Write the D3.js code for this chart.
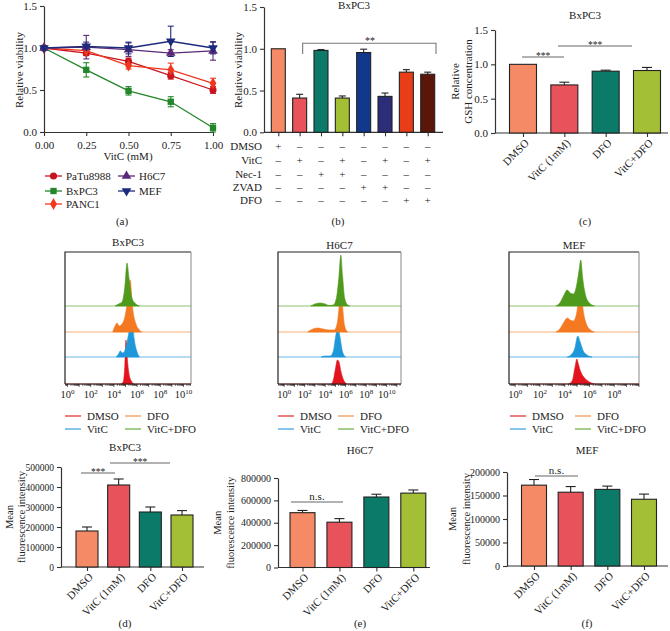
<!DOCTYPE html>
<html><head><meta charset="utf-8">
<script src="https://cdn.jsdelivr.net/npm/d3@7"></script>
<style>
body{margin:0;background:#fff}
svg{display:block}
text{font-family:"Liberation Serif","Times New Roman",serif;fill:#222}
</style>
</head><body>
<svg id="c" width="670" height="631"></svg>
<script>
// ---------------- DATA ----------------
// (a) viability vs VitC dose
const doses = [0, 0.25, 0.5, 0.75, 1.0];
const paTuMean  = [1.0, 0.94, 0.84, 0.67, 0.50];
const paTuErr   = [0, 0.03, 0.04, 0.04, 0.04];
const bxpcMean  = [1.0, 0.74, 0.49, 0.36, 0.05];
const bxpcErr   = [0, 0.085, 0.05, 0.06, 0.05];
const panc1Mean = [1.0, 0.97, 0.79, 0.74, 0.58];
const panc1Err  = [0, 0.03, 0.04, 0.08, 0.06];
const h6c7Mean  = [1.0, 1.01, 0.98, 0.94, 0.965];
const h6c7Err   = [0, 0.14, 0.08, 0.04, 0.11];
const mefMean   = [1.0, 1.02, 1.0, 1.08, 1.0];
const mefErr    = [0, 0.05, 0.07, 0.18, 0.07];
const lineNames = ["PaTu8988", "BxPC3", "PANC1", "H6C7", "MEF"];

// (b) BxPC3 inhibitor combos
const comboRows = ["DMSO", "VitC", "Nec-1", "ZVAD", "DFO"];
const comboSigns = [
  [1,0,0,0,0,0,0,0],
  [0,1,0,1,0,1,0,1],
  [0,0,1,1,0,0,0,0],
  [0,0,0,0,1,1,0,0],
  [0,0,0,0,0,0,1,1]
];
const comboMean = [1.0, 0.41, 0.98, 0.41, 0.955, 0.43, 0.72, 0.695];
const comboErr  = [0, 0.045, 0.01, 0.025, 0.04, 0.04, 0.03, 0.025];

// treatment groups for (c)-(f)
const groups = ["DMSO", "VitC (1mM)", "DFO", "VitC+DFO"];
// (c) GSH
const gshMean = [1.0, 0.70, 0.90, 0.91];
const gshErr  = [0, 0.04, 0.015, 0.045];
// (d)-(f) mean fluorescence intensity
const mfiBxpc3 = [180000, 410000, 275000, 260000];
const mfiBxpc3Err = [20000, 30000, 25000, 22000];
const mfiH6c7 = [490000, 405000, 630000, 665000];
const mfiH6c7Err = [20000, 32000, 25000, 28000];
const mfiMef = [172000, 157000, 163000, 142000];
const mfiMefErr = [12000, 12000, 7000, 11000];

// flow histograms: [log10 fluorescence, count]
const flowLegend = ["DMSO", "DFO", "VitC", "VitC+DFO"];
const histBxpc3 = {
  DMSO: [[4.6,0],[4.8,2],[4.95,20],[5.04,44],[5.15,26],[5.3,10],[5.5,3],[5.7,0]],
  VitC: [[4.2,0],[4.4,3],[4.55,6],[4.75,4],[5.0,8],[5.3,25],[5.56,39],[5.75,18],[6.0,5],[6.2,0]],
  DFO: [[3.9,0],[4.1,6],[4.27,9],[4.45,6],[4.7,8],[5.0,18],[5.25,38],[5.4,52],[5.6,25],[5.9,8],[6.2,2],[6.4,0]],
  "VitC+DFO": [[4.1,0],[4.4,2],[4.7,4],[4.95,20],[5.13,43],[5.3,28],[5.55,8],[5.9,2],[6.2,0]]
};
const histH6c7 = {
  DMSO: [[4.6,0],[4.8,4],[5.0,15],[5.2,24],[5.35,22],[5.55,12],[5.8,4],[6.1,0]],
  VitC: [[3.6,0],[4.0,1],[4.5,1],[4.8,6],[5.05,22],[5.24,29],[5.45,20],[5.7,5],[6.0,0]],
  DFO: [[2.3,0],[2.8,3],[3.3,4],[3.8,3],[4.4,2],[4.9,2],[5.2,10],[5.4,30],[5.53,45],[5.7,25],[5.9,6],[6.2,0]],
  "VitC+DFO": [[2.6,0],[3.0,2],[3.5,3],[4.0,2],[4.4,0.5],[4.8,1],[5.1,8],[5.35,30],[5.53,51],[5.7,30],[5.9,8],[6.2,1],[6.4,0]]
};
const histMef = {
  DMSO: [[4.3,0],[4.6,3],[4.85,18],[4.98,25],[5.1,20],[5.3,12],[5.6,6],[6.0,2],[6.4,0]],
  VitC: [[4.2,0],[4.5,2],[4.8,8],[5.06,21],[5.25,15],[5.5,6],[5.8,2],[6.2,0]],
  DFO: [[3.3,0],[3.6,3],[3.9,9],[4.2,14],[4.45,12],[4.7,11],[4.95,18],[5.15,35],[5.3,49],[5.45,26],[5.7,10],[6.0,3],[6.4,0]],
  "VitC+DFO": [[3.3,0],[3.6,3],[3.9,10],[4.2,16],[4.45,13],[4.7,12],[4.95,20],[5.15,35],[5.3,46],[5.45,28],[5.7,10],[6.0,3],[6.4,0]]
};

// ---------------- STYLE ----------------
const lineColors = ["#c8141e", "#23862a", "#f2371f", "#5a2a78", "#1c2a7c"];
const lineSymbols = [d3.symbolCircle, d3.symbolSquare, d3.symbolDiamond, d3.symbolTriangle, "down"];
const comboColors = ["#f58b66", "#e8525a", "#0b7a68", "#a3bf36", "#10398c", "#2c2d78", "#e83d16", "#5a1608"];
const groupColors = ["#f58b66", "#e8525a", "#0b7a68", "#a3bf36"];
const flowColors = {DMSO: "#e3141d", VitC: "#1e98d8", DFO: "#f47920", "VitC+DFO": "#4f9a1c"};
const flowLegendColors = {DMSO: "#e03a3a", VitC: "#45a8e0", DFO: "#f39a55", "VitC+DFO": "#72b44a"};
const AX = "#333";

const svg = d3.select("#c");

function styleAxis(g, fs) {
  g.selectAll(".domain").attr("stroke", AX).attr("stroke-width", 1.2);
  g.selectAll(".tick line").attr("stroke", AX).attr("stroke-width", 1.1);
  g.selectAll(".tick text").attr("font-family", '"Liberation Serif","Times New Roman",serif')
    .attr("font-size", fs).attr("fill", "#222");
}
function txt(x, y, s, opts = {}) {
  const t = svg.append("text").attr("x", x).attr("y", y).text(s)
    .attr("font-size", opts.fs || 11).attr("text-anchor", opts.anchor || "middle");
  if (opts.rot) t.attr("transform", `rotate(${opts.rot},${x},${y})`);
  return t;
}
function symPath(s, size) {
  if (s === "down") return d3.symbol(d3.symbolTriangle, size)();
  return d3.symbol(s, size)();
}

// ---------------- (a) ----------------
(function () {
  const x = d3.scaleLinear().domain([0, 1]).range([44, 213]);
  const y = d3.scaleLinear().domain([0, 1.5]).range([132, 6]);
  const gy = svg.append("g").attr("transform", "translate(44,0)")
    .call(d3.axisLeft(y).tickValues([0, 0.5, 1.0, 1.5]).tickFormat(d3.format(".1f")).tickSize(4).tickSizeOuter(0));
  styleAxis(gy, 11);
  const gx = svg.append("g").attr("transform", "translate(0,132)")
    .call(d3.axisBottom(x).tickValues(doses).tickFormat(d3.format(".2f")).tickSize(4).tickSizeOuter(0));
  styleAxis(gx, 11);
  gx.selectAll(".tick text").attr("dy", "0.9em");
  txt(23, 70, "Relative viability", {rot: -90});
  txt(128, 160, "VitC (mM)");

  const means = [paTuMean, bxpcMean, panc1Mean, h6c7Mean, mefMean];
  const errs = [paTuErr, bxpcErr, panc1Err, h6c7Err, mefErr];
  const line = d3.line().x((d, i) => x(doses[i])).y(d => y(d));
  means.forEach((m, k) => {
    const c = lineColors[k];
    svg.append("path").attr("d", line(m)).attr("fill", "none").attr("stroke", c).attr("stroke-width", 1.3);
    m.forEach((v, i) => {
      const e = errs[k][i];
      if (e > 0) {
        const cx = x(doses[i]);
        svg.append("line").attr("x1", cx).attr("x2", cx).attr("y1", y(v - e)).attr("y2", y(v + e)).attr("stroke", c).attr("stroke-width", 1.1);
        [v - e, v + e].forEach(w => svg.append("line").attr("x1", cx - 3).attr("x2", cx + 3).attr("y1", y(w)).attr("y2", y(w)).attr("stroke", c).attr("stroke-width", 1.1));
      }
    });
  });
  means.forEach((m, k) => {
    m.forEach((v, i) => {
      svg.append("path").attr("d", symPath(lineSymbols[k], 40))
        .attr("transform", `translate(${x(doses[i])},${y(v)})` + (lineSymbols[k] === "down" ? " rotate(180)" : ""))
        .attr("fill", lineColors[k]);
    });
  });
  // legend
  const pos = [[45, 176], [45, 191], [45, 204], [118, 176], [118, 191]];
  lineNames.forEach((n, k) => {
    const [lx, ly] = pos[k];
    svg.append("line").attr("x1", lx).attr("x2", lx + 17).attr("y1", ly).attr("y2", ly).attr("stroke", lineColors[k]).attr("stroke-width", 1.3);
    svg.append("path").attr("d", symPath(lineSymbols[k], 40))
      .attr("transform", `translate(${lx + 8.5},${ly})` + (lineSymbols[k] === "down" ? " rotate(180)" : ""))
      .attr("fill", lineColors[k]);
    txt(lx + 21, ly + 4, n, {anchor: "start"});
  });
  txt(122, 225, "(a)");
})();

// ---------------- (b) ----------------
(function () {
  const x = d3.scalePoint().domain(d3.range(comboMean.length)).range([278.3, 427.7]);
  const y = d3.scaleLinear().domain([0, 1.5]).range([132.3, 7]);
  const gy = svg.append("g").attr("transform", "translate(264,0)")
    .call(d3.axisLeft(y).tickValues([0, 0.5, 1.0, 1.5]).tickFormat(d3.format(".1f")).tickSize(4).tickSizeOuter(0));
  styleAxis(gy, 11);
  const gx = svg.append("g").attr("transform", "translate(0,132.3)")
    .call(d3.axisBottom(x).tickFormat("").tickSize(4).tickSizeOuter(0));
  gx.select(".domain").attr("d", "M264,0H443");
  styleAxis(gx, 11);
  txt(242, 70, "Relative viability", {rot: -90});
  txt(354, 9, "BxPC3");
  const bw = 14;
  comboMean.forEach((v, i) => {
    const cx = x(i), e = comboErr[i];
    if (e > 0) {
      svg.append("line").attr("x1", cx).attr("x2", cx).attr("y1", y(v)).attr("y2", y(v + e)).attr("stroke", "#222").attr("stroke-width", 1.1);
      svg.append("line").attr("x1", cx - 3.5).attr("x2", cx + 3.5).attr("y1", y(v + e)).attr("y2", y(v + e)).attr("stroke", "#222").attr("stroke-width", 1.1);
    }
    svg.append("rect").attr("x", cx - bw / 2).attr("y", y(v)).attr("width", bw).attr("height", y(0) - y(v))
      .attr("fill", comboColors[i]).attr("stroke", "#222").attr("stroke-width", 1.1);
  });
  // bracket
  svg.append("path").attr("d", `M${x(1) + 3},54V43.3H436V54`).attr("fill", "none").attr("stroke", "#777").attr("stroke-width", 1.1);
  txt(370, 44, "**", {fs: 10}).attr("fill", "#666");
  // sign table
  const rowY = [146, 160, 173.5, 187, 200];
  comboRows.forEach((r, ri) => {
    txt(262, rowY[ri] + 4, r, {anchor: "end"});
    comboSigns[ri].forEach((s, ci) => {
      txt(x(ci), rowY[ri] + 4, s ? "+" : "\u2013", {fs: 11});
    });
  });
  txt(338, 225, "(b)");
})();

// ---------------- generic bar panel ----------------
function barPanel(cfg) {
  const x = d3.scalePoint().domain(groups).range(cfg.centers);
  const y = d3.scaleLinear().domain([0, cfg.max]).range([cfg.y0, cfg.yTop]);
  const gy = svg.append("g").attr("transform", `translate(${cfg.ax},0)`)
    .call(d3.axisLeft(y).tickValues(cfg.ticks).tickFormat(cfg.fmt).tickSize(4).tickSizeOuter(0));
  styleAxis(gy, cfg.fs);
  const gx = svg.append("g").attr("transform", `translate(0,${cfg.y0})`)
    .call(d3.axisBottom(x).tickFormat("").tickSize(4).tickSizeOuter(0));
  gx.select(".domain").attr("d", `M${cfg.ax},0H${cfg.axEnd}`);
  styleAxis(gx, cfg.fs);
  cfg.vals.forEach((v, i) => {
    const cx = x(groups[i]), e = cfg.errs[i];
    if (e > 0) {
      svg.append("line").attr("x1", cx).attr("x2", cx).attr("y1", y(v)).attr("y2", y(v + e)).attr("stroke", "#222").attr("stroke-width", 1.1);
      svg.append("line").attr("x1", cx - 5).attr("x2", cx + 5).attr("y1", y(v + e)).attr("y2", y(v + e)).attr("stroke", "#222").attr("stroke-width", 1.1);
    }
    svg.append("rect").attr("x", cx - cfg.bw / 2).attr("y", y(v)).attr("width", cfg.bw).attr("height", y(0) - y(v))
      .attr("fill", groupColors[i]).attr("stroke", "#222").attr("stroke-width", 1.1);
    svg.append("text").text(groups[i]).attr("font-size", 11).attr("text-anchor", "end")
      .attr("transform", `translate(${cx + 4},${cfg.y0 + 8}) rotate(-45)`).attr("dy", "0.35em");
  });
  (cfg.sig || []).forEach(s => {
    svg.append("line").attr("x1", s[0]).attr("x2", s[1]).attr("y1", s[2]).attr("y2", s[2]).attr("stroke", "#666").attr("stroke-width", 1.1);
    if (s[3] === "n.s.") txt((s[0] + s[1]) / 2, s[2] - 2, s[3], {fs: 11}).attr("fill", "#444");
    else txt((s[0] + s[1]) / 2, s[2] + 2, s[3], {fs: 9.5}).attr("fill", "#666");
  });
  txt(cfg.titleX, cfg.titleY, cfg.title);
  cfg.ylab.forEach(l => txt(l[0], (cfg.y0 + cfg.yTop) / 2, l[1], {rot: -90, fs: cfg.yfs || 11}));
  txt(cfg.titleX, cfg.panelY, cfg.panel);
}

// (c)
barPanel({
  centers: [523, 647], max: 1.5, y0: 133, yTop: 30, ax: 495, axEnd: 668, ticks: [0, 0.5, 1, 1.5],
  fmt: d3.format(".1f"), fs: 11, vals: gshMean, errs: gshErr, bw: 27,
  sig: [[522, 564, 57, "***"], [558, 632, 46, "***"]],
  title: "BxPC3", titleX: 585, titleY: 19, ylab: [[459, "Relative"], [472, "GSH concentration"]],
  panel: "(c)", panelY: 225
});
// (d)
barPanel({
  centers: [87, 182], max: 500000, y0: 567, yTop: 467, ax: 61, axEnd: 204, ticks: d3.range(0, 500001, 100000),
  fmt: d3.format("d"), fs: 9.5, vals: mfiBxpc3, errs: mfiBxpc3Err, bw: 22,
  sig: [[81, 115, 473, "***"], [110, 170, 463, "***"]],
  title: "BxPC3", titleX: 125, titleY: 451, ylab: [[13, "Mean"], [25, "fluorescence intensity"]], yfs: 10.5,
  panel: "(d)", panelY: 627
});
// (e)
barPanel({
  centers: [302.5, 413.3], max: 800000, y0: 567.5, yTop: 478, ax: 278, axEnd: 430, ticks: d3.range(0, 800001, 200000),
  fmt: d3.format("d"), fs: 10, vals: mfiH6c7, errs: mfiH6c7Err, bw: 25,
  sig: [[291, 343, 502, "n.s."]],
  title: "H6C7", titleX: 360, titleY: 454, ylab: [[221, "Mean"], [234, "fluorescence intensity"]], yfs: 10.5,
  panel: "(e)", panelY: 627
});
// (f)
barPanel({
  centers: [534, 644], max: 200000, y0: 566, yTop: 472, ax: 507, axEnd: 668, ticks: d3.range(0, 200001, 50000),
  fmt: d3.format("d"), fs: 10, vals: mfiMef, errs: mfiMefErr, bw: 25,
  sig: [[535, 578, 476, "n.s."]],
  title: "MEF", titleX: 587, titleY: 454, ylab: [[456, "Mean"], [470, "fluorescence intensity"]], yfs: 10.5,
  panel: "(f)", panelY: 627
});

// ---------------- flow histograms ----------------
function flowPanel(cfg) {
  const x = d3.scaleLinear().domain(cfg.dom).range([cfg.left, cfg.right]);
  const top = 252, bottom = 384;
  const y = d3.scaleLinear().domain([0, 132]).range([0, 132]);
  const lanes = {DMSO: 0, VitC: 27, DFO: 52, "VitC+DFO": 78};
  const order = ["DMSO", "VitC", "DFO", "VitC+DFO"];
  order.forEach(k => {
    const base = bottom - y(lanes[k]);
    svg.append("line").attr("x1", cfg.left).attr("x2", cfg.right).attr("y1", base).attr("y2", base)
      .attr("stroke", flowLegendColors[k]).attr("stroke-width", 1).attr("opacity", 0.8);
  });
  order.forEach(k => {
    const base = bottom - y(lanes[k]);
    const area = d3.area().curve(d3.curveMonotoneX).x(d => x(d[0])).y0(base).y1(d => base - y(d[1]));
    svg.append("path").attr("d", area(cfg.hist[k])).attr("fill", flowColors[k]).attr("stroke", flowColors[k]).attr("stroke-width", 0.6);
  });
  // frame
  svg.append("path").attr("d", `M${cfg.left},${bottom}V${top}H${cfg.right}`).attr("fill", "none").attr("stroke", "#222").attr("stroke-width", 1.2);
  svg.append("line").attr("x1", cfg.right).attr("x2", cfg.right).attr("y1", top).attr("y2", bottom).attr("stroke", "#888").attr("stroke-width", 1);
  svg.append("line").attr("x1", cfg.left).attr("x2", cfg.right).attr("y1", bottom).attr("y2", bottom).attr("stroke", "#222").attr("stroke-width", 1.2);
  // log ticks
  for (let d = Math.ceil(cfg.dom[0]) - 1; d <= cfg.dom[1]; d++) {
    for (let m = 1; m <= 9; m++) {
      const L = d + Math.log10(m);
      if (L < cfg.dom[0] || L > cfg.dom[1]) continue;
      const px = x(L);
      svg.append("line").attr("x1", px).attr("x2", px).attr("y1", bottom).attr("y2", bottom + (m === 1 ? 3 : 1.8))
        .attr("stroke", "#222").attr("stroke-width", 0.7);
    }
  }
  cfg.labels.forEach(p => {
    const t = svg.append("text").attr("x", x(p)).attr("y", 398).attr("font-size", 10.5).attr("text-anchor", "middle");
    t.append("tspan").text("10");
    t.append("tspan").text(p).attr("font-size", 7).attr("dy", -4);
  });
  txt((cfg.left + cfg.right) / 2, cfg.titleY, cfg.title);
  // legend
  const lp = [[cfg.l1, 416, "DMSO"], [cfg.l2, 416, "DFO"], [cfg.l1, 429, "VitC"], [cfg.l2, 429, "VitC+DFO"]];
  lp.forEach(([lx, ly, k]) => {
    svg.append("line").attr("x1", lx).attr("x2", lx + 16).attr("y1", ly).attr("y2", ly).attr("stroke", flowLegendColors[k]).attr("stroke-width", 1.3);
    txt(lx + 22, ly + 4, k, {anchor: "start"});
  });
}
flowPanel({dom: [-0.22, 10.65], left: 65, right: 191, hist: histBxpc3, labels: [0, 2, 4, 6, 8, 10], title: "BxPC3", titleY: 246, l1: 65, l2: 125});
flowPanel({dom: [-0.6, 11.4], left: 278, right: 401, hist: histH6c7, labels: [0, 2, 4, 6, 8, 10], title: "H6C7", titleY: 249, l1: 278, l2: 338});
flowPanel({dom: [-0.5, 10], left: 509, right: 639, hist: histMef, labels: [0, 2, 4, 6, 8], title: "MEF", titleY: 249, l1: 510, l2: 575});
</script>
</body></html>
